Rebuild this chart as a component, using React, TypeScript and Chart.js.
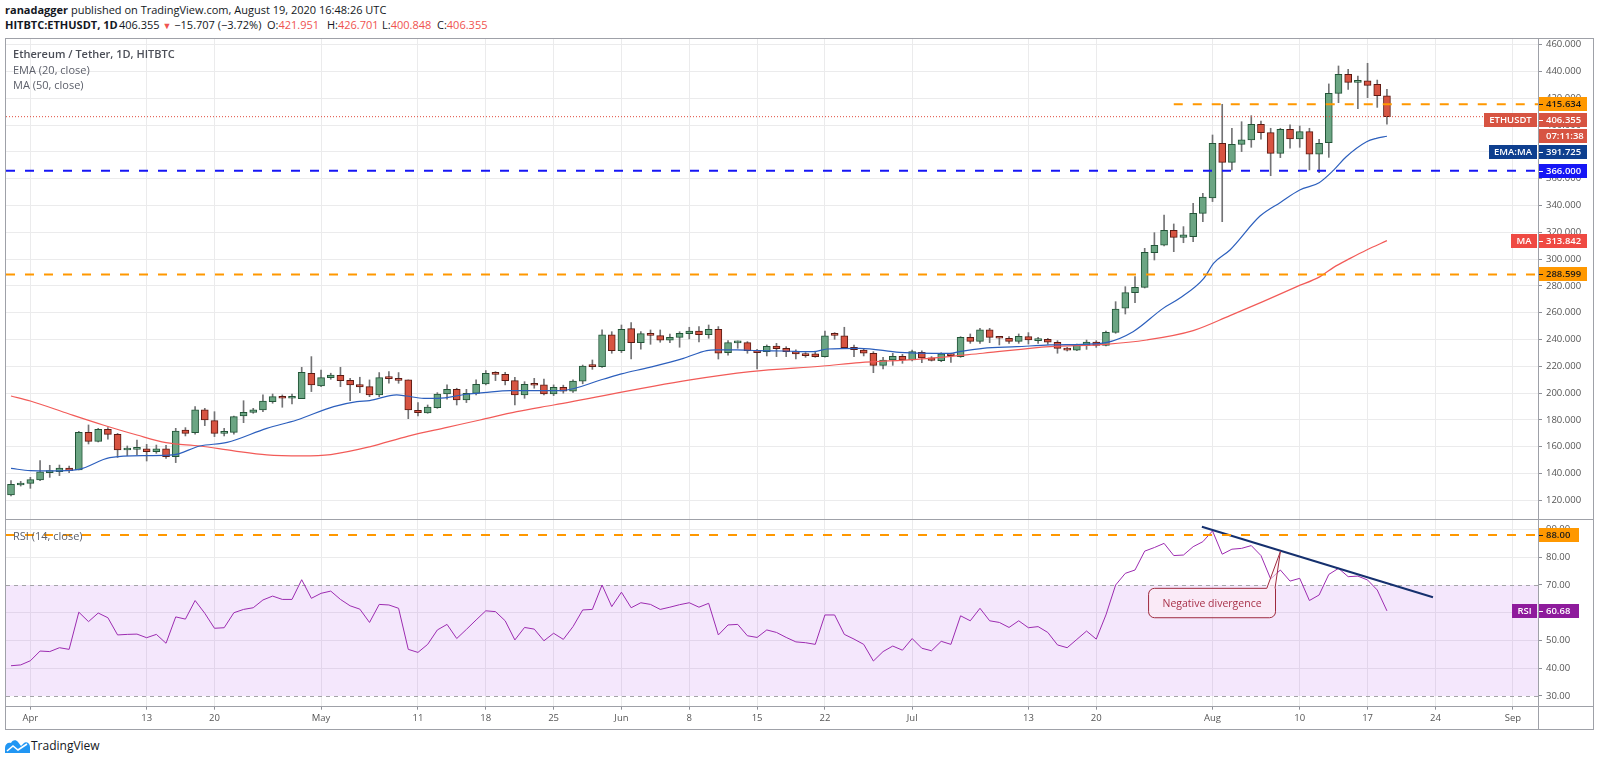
import React, { useEffect, useRef } from 'react';
import { Chart, registerables } from 'chart.js';

Chart.register(...registerables);

// ---------- DATA (day index 0 = 2020-03-30, daily candles) ----------
const START_DATE = '2020-03-30';

const OPEN = [
  124.0, 131.5, 132.7, 135.2, 140.7, 141.4, 144.2, 142.7, 170.8, 164.1,
  173.0, 169.3, 157.6, 158.1, 158.4, 156.4, 158.4, 152.6, 172.5, 170.5,
  187.5, 179.5, 170.0, 170.8, 183.0, 185.7, 187.5, 193.7, 197.4, 196.2,
  196.0, 214.9, 205.4, 211.6, 213.4, 209.6, 206.4, 204.9, 198.7, 211.9,
  211.1, 209.9, 187.3, 185.3, 189.2, 199.4, 202.9, 195.0, 199.9, 206.9,
  215.1, 214.1, 209.4, 198.7, 206.9, 206.2, 199.4, 204.4, 201.5, 209.0,
  220.5, 219.8, 243.5, 231.8, 248.2, 237.7, 244.5, 243.0, 239.5, 241.7,
  244.5, 246.4, 243.7, 247.7, 230.3, 237.5, 237.7, 232.0, 231.0, 235.2,
  233.5, 231.0, 229.0, 229.3, 227.3, 243.5, 242.9, 234.2, 232.2, 229.8,
  220.8, 224.8, 227.5, 224.8, 230.5, 226.3, 224.3, 229.0, 227.3, 241.7,
  238.7, 247.2, 241.7, 241.0, 238.7, 242.2, 239.2, 240.2, 238.0, 233.5,
  232.2, 235.7, 238.2, 235.7, 245.4, 263.4, 275.0, 279.0, 304.9, 310.4,
  321.5, 316.3, 316.8, 334.2, 345.7, 386.5, 372.3, 385.7, 389.0, 400.7,
  394.4, 379.0, 396.9, 389.7, 395.2, 378.3, 386.9, 423.8, 437.9, 432.0,
  433.2, 430.5, 421.951,
];
const HIGH = [
  134.7, 134.2, 137.2, 149.7, 146.2, 146.4, 145.7, 171.5, 176.3, 173.8,
  174.3, 170.0, 160.6, 165.1, 161.8, 161.3, 161.1, 173.8, 174.3, 190.0,
  188.7, 186.2, 173.8, 183.0, 194.4, 188.7, 198.7, 199.4, 198.7, 199.4,
  219.3, 227.3, 217.3, 214.9, 219.3, 211.1, 211.9, 209.9, 215.4, 216.1,
  215.4, 209.9, 193.0, 191.2, 200.4, 206.2, 203.7, 202.9, 209.9, 216.9,
  216.1, 215.6, 211.9, 208.6, 211.1, 210.6, 206.2, 206.0, 210.0, 221.0,
  224.8, 247.2, 245.9, 250.9, 252.7, 245.9, 247.2, 247.2, 244.2, 245.9,
  249.2, 249.7, 250.9, 249.7, 239.2, 239.0, 238.5, 232.8, 236.0, 237.2,
  234.7, 232.3, 230.3, 231.0, 246.4, 245.2, 249.2, 236.0, 233.5, 231.0,
  226.8, 229.8, 229.0, 232.2, 231.7, 227.3, 230.2, 229.8, 242.2, 244.2,
  248.4, 248.4, 242.2, 242.2, 244.2, 245.2, 241.7, 240.9, 239.2, 234.2,
  236.7, 239.7, 239.2, 246.4, 268.3, 279.5, 287.0, 308.1, 319.8, 333.0,
  326.3, 324.3, 341.7, 349.2, 392.7, 415.6, 397.7, 402.6, 407.1, 403.1,
  397.7, 397.7, 400.2, 399.4, 397.7, 389.5, 430.8, 444.2, 441.7, 436.7,
  446.2, 433.7, 426.701,
];
const LOW = [
  123.3, 130.7, 129.0, 134.7, 137.2, 138.5, 140.7, 142.7, 162.1, 163.6,
  165.6, 152.1, 153.4, 153.9, 149.4, 155.1, 151.4, 148.2, 168.1, 169.5,
  175.8, 167.6, 168.1, 169.5, 178.0, 185.0, 186.2, 192.5, 189.5, 192.0,
  196.0, 201.2, 204.9, 210.4, 204.9, 194.5, 200.4, 197.4, 197.4, 207.4,
  207.4, 181.0, 183.0, 185.0, 188.7, 195.5, 191.2, 193.0, 198.7, 206.2,
  209.4, 206.2, 191.2, 196.2, 203.7, 198.7, 198.2, 200.0, 200.5, 207.0,
  217.8, 219.3, 229.8, 230.3, 225.5, 232.8, 236.5, 238.0, 237.7, 234.3,
  240.5, 238.2, 241.0, 225.5, 228.3, 233.5, 229.8, 218.1, 227.8, 227.3,
  227.3, 225.5, 226.8, 226.8, 226.8, 240.2, 233.5, 227.3, 227.8, 215.3,
  218.1, 220.8, 222.3, 224.0, 222.8, 224.0, 223.5, 223.0, 226.8, 237.2,
  237.2, 237.7, 236.0, 237.2, 237.2, 236.7, 237.2, 236.5, 229.8, 231.5,
  231.7, 232.7, 234.2, 235.2, 244.7, 259.1, 267.6, 278.5, 299.4, 309.9,
  305.6, 312.3, 313.1, 328.0, 343.0, 328.0, 366.6, 380.3, 383.5, 389.5,
  362.3, 375.8, 382.8, 383.5, 366.6, 364.6, 376.0, 416.8, 426.7, 412.3,
  420.5, 413.3, 400.848,
];
const CLOSE = [
  132.0, 133.0, 135.5, 141.4, 141.4, 144.2, 142.2, 170.8, 164.1, 173.0,
  169.3, 157.6, 158.4, 158.6, 156.4, 158.4, 152.6, 171.8, 170.0, 187.5,
  180.0, 170.0, 171.0, 182.5, 185.7, 187.5, 194.2, 197.4, 196.2, 196.7,
  215.6, 206.2, 211.6, 213.6, 209.4, 206.2, 204.7, 198.7, 211.6, 210.9,
  209.6, 187.5, 185.5, 189.7, 199.4, 202.9, 195.0, 199.9, 206.7, 214.9,
  214.1, 209.4, 198.7, 206.7, 205.9, 199.4, 204.4, 201.5, 209.0, 220.3,
  219.8, 243.5, 231.8, 247.7, 237.7, 244.5, 243.2, 239.5, 241.7, 244.7,
  246.4, 243.7, 247.7, 229.8, 237.7, 237.9, 231.8, 230.3, 235.0, 233.3,
  231.0, 229.3, 228.0, 227.3, 242.9, 243.2, 234.0, 232.5, 229.8, 220.8,
  224.8, 227.5, 224.8, 231.0, 226.3, 224.5, 229.3, 228.0, 241.7, 238.7,
  247.2, 241.7, 241.0, 238.7, 242.4, 239.7, 240.2, 238.0, 233.5, 232.2,
  235.7, 238.2, 235.7, 245.4, 262.8, 275.0, 279.0, 305.1, 310.4, 321.5,
  316.3, 318.1, 334.2, 346.4, 386.5, 372.3, 385.7, 389.0, 400.7, 394.4,
  379.0, 396.9, 389.7, 395.2, 378.3, 386.5, 423.8, 437.9, 432.0, 433.2,
  429.7, 422.0, 406.355,
];

// EMA(20) and MA(50) at these day positions
const EMA_DAYS = [
  0, 2, 4, 7, 10.2, 14, 16.7, 19.5, 22.3, 26.4, 29.5, 33.3, 35.7, 37, 39.8,
  40.8, 42.6, 44, 47, 48.8, 51.5, 53.9, 56.7, 61.1, 63, 65.9, 69.4, 71.8, 72.8, 74.9,
  77, 79.7, 82.8, 84.2, 87.6, 91.7, 95.2, 96.9, 97.9, 100.3, 103.8, 107.2, 110.6, 113, 115.8,
  118.9, 120.6, 123.1, 124.1, 125.8, 128.9, 131, 133, 135, 136.5, 137.8, 139.9, 140.9, 142,
];
const EMA_VALUES = [
  143.9, 142.2, 142.0, 143.2, 151.9, 153.4, 153.9, 160.6, 163.3, 173.8, 180.0, 190.0, 193.7, 194.5, 198.7,
  197.9, 196.2, 196.2, 199.2, 200.4, 201.9, 201.9, 201.9, 210.4, 214.4, 219.3, 226.0, 231.8, 232.3, 232.3,
  231.8, 231.5, 231.0, 233.0, 233.5, 230.5, 229.7, 229.7, 231.0, 233.5, 234.7, 236.0, 236.5, 237.7, 245.9,
  263.3, 270.8, 285.7, 296.9, 306.9, 332.2, 342.4, 351.6, 357.1, 366.5, 376.5, 387.7, 390.2, 391.725,
];
const MA_DAYS = [
  0, 2, 6, 9.5, 13, 16, 19.5, 23, 26.4, 30, 33, 37, 41, 45, 48.4, 52.2, 56, 70.1,
  76.3, 83.8, 87.6, 93.5, 100.3, 107.2, 113, 117.2, 122, 125.8, 129.2, 132.7, 135.1, 136.5, 138.2, 139.9, 142,
];
const MA_VALUES = [
  197.9, 194.2, 184.5, 176.3, 168.8, 163.1, 160.6, 156.9, 153.9, 153.2, 154.2, 160.0, 168.0, 174.5, 180.0, 186.3, 191.2, 209.9,
  216.1, 220.3, 222.8, 225.3, 229.8, 234.7, 236.5, 239.7, 246.7, 257.9, 268.3, 279.5, 287.0, 293.9, 300.6, 306.9, 313.842,
];

// RSI(14) one value per candle
const RSI_VALUES = [
  40.9, 41.2, 42.7, 46.2, 46.0, 47.4, 46.8, 60.2, 56.8, 59.9,
  58.2, 52.0, 52.2, 52.3, 51.0, 52.2, 49.0, 58.5, 57.7, 64.4,
  59.8, 54.4, 54.6, 60.0, 61.2, 61.8, 64.6, 66.0, 64.8, 64.8,
  71.9, 65.2, 67.0, 67.8, 64.8, 62.5, 61.3, 56.5, 63.0, 62.8,
  61.6, 46.8, 45.7, 48.6, 53.8, 55.8, 50.7, 54.0, 57.4, 60.7,
  60.4, 57.1, 50.2, 54.7, 54.1, 49.9, 52.6, 50.4, 55.0, 61.0,
  61.2, 70.0, 62.2, 67.4, 61.8, 63.6, 63.0, 61.2, 62.0, 62.9,
  63.6, 62.0, 63.4, 52.0, 55.6, 55.8, 51.7, 51.1, 53.8, 52.9,
  51.1, 49.5, 49.2, 48.6, 59.2, 59.2, 52.2, 50.5, 48.6, 42.6,
  46.0, 48.0, 46.5, 50.7, 47.2, 46.3, 49.7, 48.6, 58.9, 57.1,
  61.6, 57.1, 56.5, 54.7, 57.1, 54.6, 55.0, 52.9, 48.4, 47.4,
  50.4, 53.4, 50.5, 59.2, 70.0, 74.2, 75.4, 82.2, 83.5, 85.0,
  80.6, 80.8, 83.8, 85.6, 89.5, 81.1, 82.9, 83.2, 84.2, 80.6,
  72.2, 75.4, 71.4, 72.4, 64.4, 66.4, 73.8, 76.0, 73.0, 73.2,
  71.8, 68.2, 60.68,
];

const X_TICK_DAYS = [2, 14, 21, 32, 42, 49, 56, 63, 70, 77, 84, 93, 105, 112, 124, 133, 140, 147, 155];
const X_TICK_LABELS = ['Apr', '13', '20', 'May', '11', '18', '25', 'Jun', '8', '15', '22', 'Jul', '13', '20', 'Aug', '10', '17', '24', 'Sep'];
const PRICE_TICKS = [120, 140, 160, 180, 200, 220, 240, 260, 280, 300, 320, 340, 360, 380, 400, 420, 440, 460];
const RSI_TICKS = [30, 40, 50, 60, 70, 80, 90];

const LEVEL_LOW = 288.599;
const LEVEL_SUPPORT = 366.0;
const LEVEL_RESIST = 415.634;
const RESIST_FROM_DAY = 120;
const RSI_LEVEL = 88;
const RSI_BAND = [30, 70];
const TREND_DAYS = [122.9, 146.75];
const TREND_VALUES = [91.0, 65.6];
const CALLOUT_TEXT = 'Negative divergence';
const CALLOUT_BOX = { fromDay: 117.4, toDay: 130.5, top: 68.8, bottom: 58.2 };
const CALLOUT_TAIL = { fromDay: 129.6, toDay: 130.45, tipDay: 131.0, tipValue: 82.0 };
const SYMBOL = 'ETHUSDT';
const COUNTDOWN = '07:11:38';

// header quote values
const QUOTE_LAST = '406.355';
const QUOTE_CHANGE = '−15.707 (−3.72%)';
const QUOTE_OHLC = [
  ['O:', '421.951'],
  ['H:', '426.701'],
  ['L:', '400.848'],
  ['C:', '406.355'],
];

// axis ranges
const X_MIN = -0.516;
const X_MAX = 157.59;
const PRICE_MIN = 105.37;
const PRICE_MAX = 465.07;
const RSI_MIN = 26.14;
const RSI_MAX = 93.42;

// ---------- STYLE ----------
const FONT = "'Open Sans', 'Noto Sans', sans-serif";
const UP = '#6ba583';
const UP_BORDER = '#225437';
const DOWN = '#d75442';
const DOWN_BORDER = '#5b1a13';
const WICK = '#737375';
const GRID = '#ebebec';
const AXIS_TEXT = '#555555';
const AXIS_LINE = '#8e9098';
const ORANGE = '#ff9800';
const EMA_COLOR = '#2c5fbd';
const MA_COLOR = '#f25b58';
const RSI_COLOR = '#9c2bb0';

type LabelItem = { value: number; bg: string; fg: string; text: string; left?: string; sub?: string };

function drawBox(ctx: CanvasRenderingContext2D, x: number, yc: number, w: number, it: { bg: string; fg: string; text: string; left?: string }, dash: boolean) {
  const h = 14;
  const top = Math.round(yc - h / 2);
  ctx.fillStyle = it.bg;
  ctx.fillRect(x + 1, top, w, h);
  ctx.fillStyle = it.fg;
  if (dash) ctx.fillRect(x + 1, Math.round(yc), 4, 1);
  ctx.textAlign = 'left';
  ctx.fillText(it.text, x + 8, top + h / 2 + 0.5);
  if (it.left) {
    const lw = Math.ceil(ctx.measureText(it.left).width) + 10;
    ctx.fillStyle = it.bg;
    ctx.fillRect(x - 1 - lw, top, lw, h);
    ctx.fillStyle = it.fg;
    ctx.textAlign = 'center';
    ctx.fillText(it.left, x - 1 - lw / 2, top + h / 2 + 0.5);
  }
}

function drawLabels(chart: any, items: LabelItem[], boxW: number) {
  const { ctx, chartArea, scales } = chart;
  ctx.save();
  ctx.font = `600 9.5px ${FONT}`;
  ctx.textBaseline = 'middle';
  const list = items
    .map((it) => ({ ...it, py: scales.y.getPixelForValue(it.value) }))
    .sort((a, b) => a.py - b.py);
  let next = -1e9;
  for (const it of list) {
    const yc = Math.max(it.py, next);
    drawBox(ctx, chartArea.right, yc, boxW, it, true);
    next = yc + 16;
    if (it.sub) {
      drawBox(ctx, chartArea.right, next, boxW, { bg: it.bg, fg: it.fg, text: it.sub }, false);
      next += 16;
    }
  }
  ctx.restore();
}

const xScale = (showLabels: boolean) => ({
  type: 'linear',
  min: X_MIN,
  max: X_MAX,
  offset: false,
  grid: { color: GRID, offset: false, drawTicks: showLabels, tickLength: 3, tickColor: AXIS_LINE },
  border: { display: false },
  ticks: {
    display: showLabels,
    autoSkip: false,
    maxRotation: 0,
    padding: 3,
    color: AXIS_TEXT,
    font: { family: FONT, size: 9.5 },
    callback: (_v: any, i: number) => X_TICK_LABELS[i],
  },
  afterBuildTicks: (s: any) => {
    s.ticks = X_TICK_DAYS.map((v) => ({ value: v }));
  },
  afterFit: (s: any) => {
    s.height = showLabels ? 23.3 : 0;
    s.paddingLeft = 0;
    s.paddingRight = 0;
  },
});

export default function App() {
  const priceRef = useRef<HTMLCanvasElement>(null);
  const rsiRef = useRef<HTMLCanvasElement>(null);

  useEffect(() => {
    document.body.style.margin = '0';
    Chart.defaults.font.family = FONT;
    const days = CLOSE.map((_, i) => i);
    const last = CLOSE.length - 1;
    const isUp = days.map((i) => CLOSE[i] >= OPEN[i]);

    const hLine = (value: number, color: string, from = X_MIN, dash: number[] = [9, 10], width = 2) => ({
      type: 'line',
      data: [{ x: from, y: value }, { x: X_MAX, y: value }],
      borderColor: color,
      borderWidth: width,
      borderDash: dash,
      pointRadius: 0,
      order: 0,
    });

    const priceChart = new Chart(priceRef.current as HTMLCanvasElement, {
      type: 'bar',
      data: {
        datasets: [
          {
            type: 'bar',
            data: days.map((i) => ({ x: i, y: [LOW[i], HIGH[i]] })),
            backgroundColor: WICK,
            borderWidth: 0,
            barThickness: 1,
            grouped: false,
            order: 4,
          },
          {
            type: 'bar',
            data: days.map((i) => ({ x: i, y: [OPEN[i], CLOSE[i]] })),
            backgroundColor: isUp.map((u) => (u ? UP : DOWN)),
            borderColor: isUp.map((u) => (u ? UP_BORDER : DOWN_BORDER)),
            borderWidth: 1,
            borderSkipped: false,
            barThickness: 7,
            minBarLength: 2,
            grouped: false,
            order: 3,
          },
          {
            type: 'line',
            data: EMA_DAYS.map((d, i) => ({ x: d, y: EMA_VALUES[i] })),
            borderColor: EMA_COLOR,
            borderWidth: 1.2,
            pointRadius: 0,
            cubicInterpolationMode: 'monotone',
            order: 2,
          },
          {
            type: 'line',
            data: MA_DAYS.map((d, i) => ({ x: d, y: MA_VALUES[i] })),
            borderColor: MA_COLOR,
            borderWidth: 1.2,
            pointRadius: 0,
            cubicInterpolationMode: 'monotone',
            order: 2,
          },
          hLine(LEVEL_LOW, ORANGE),
          hLine(LEVEL_SUPPORT, '#1616f5'),
          hLine(LEVEL_RESIST, ORANGE, RESIST_FROM_DAY),
          hLine(CLOSE[last], '#e04a3c', X_MIN, [1, 2], 1),
        ],
      } as any,
      options: {
        animation: false,
        responsive: false,
        maintainAspectRatio: false,
        events: [],
        layout: { padding: { left: 6, right: 6, top: 0, bottom: 0 } },
        plugins: { legend: { display: false }, tooltip: { enabled: false } },
        scales: {
          x: xScale(false),
          y: {
            type: 'linear',
            position: 'right',
            min: PRICE_MIN,
            max: PRICE_MAX,
            grid: { color: GRID, tickLength: 4, tickColor: AXIS_LINE },
            border: { display: false },
            ticks: {
              autoSkip: false,
              padding: 4,
              color: AXIS_TEXT,
              font: { family: FONT, size: 9.5 },
              callback: (v: any) => Number(v).toFixed(3),
            },
            afterBuildTicks: (s: any) => {
              s.ticks = PRICE_TICKS.map((v) => ({ value: v }));
            },
            afterFit: (s: any) => {
              s.width = 56;
              s.paddingTop = 0;
              s.paddingBottom = 0;
            },
          },
        } as any,
      },
      plugins: [
        {
          id: 'priceLabels',
          afterDraw(chart: any) {
            drawLabels(
              chart,
              [
                { value: LEVEL_RESIST, bg: ORANGE, fg: '#1a1a1a', text: LEVEL_RESIST.toFixed(3) },
                { value: CLOSE[last], bg: DOWN, fg: '#ffffff', text: CLOSE[last].toFixed(3), left: SYMBOL, sub: COUNTDOWN },
                { value: EMA_VALUES[EMA_VALUES.length - 1], bg: '#0e3f8f', fg: '#ffffff', text: EMA_VALUES[EMA_VALUES.length - 1].toFixed(3), left: 'EMA:MA' },
                { value: LEVEL_SUPPORT, bg: '#1616f5', fg: '#ffffff', text: LEVEL_SUPPORT.toFixed(3) },
                { value: MA_VALUES[MA_VALUES.length - 1], bg: '#ef4a43', fg: '#ffffff', text: MA_VALUES[MA_VALUES.length - 1].toFixed(3), left: 'MA' },
                { value: LEVEL_LOW, bg: ORANGE, fg: '#1a1a1a', text: LEVEL_LOW.toFixed(3) },
              ],
              48
            );
          },
        },
      ],
    });

    const rsiChart = new Chart(rsiRef.current as HTMLCanvasElement, {
      type: 'line',
      data: {
        datasets: [
          {
            data: RSI_VALUES.map((v, i) => ({ x: i, y: v })),
            borderColor: RSI_COLOR,
            borderWidth: 1,
            pointRadius: 0,
            order: 2,
          },
          hLine(RSI_LEVEL, ORANGE),
          {
            data: TREND_DAYS.map((d, i) => ({ x: d, y: TREND_VALUES[i] })),
            borderColor: '#15306e',
            borderWidth: 2,
            pointRadius: 0,
            order: 0,
          },
        ],
      } as any,
      options: {
        animation: false,
        responsive: false,
        maintainAspectRatio: false,
        events: [],
        layout: { padding: { left: 6, right: 6, top: 0, bottom: 0 } },
        plugins: { legend: { display: false }, tooltip: { enabled: false } },
        scales: {
          x: xScale(true),
          y: {
            type: 'linear',
            position: 'right',
            min: RSI_MIN,
            max: RSI_MAX,
            grid: {
              color: (c: any) => (c.tick && RSI_BAND.includes(c.tick.value) ? 'rgba(0,0,0,0)' : GRID),
              tickLength: 4,
              tickColor: AXIS_LINE,
            },
            border: { display: false },
            ticks: {
              autoSkip: false,
              padding: 4,
              color: AXIS_TEXT,
              font: { family: FONT, size: 9.5 },
              callback: (v: any) => Number(v).toFixed(2),
            },
            afterBuildTicks: (s: any) => {
              s.ticks = RSI_TICKS.map((v) => ({ value: v }));
            },
            afterFit: (s: any) => {
              s.width = 56;
              s.paddingTop = 0;
              s.paddingBottom = 0;
            },
          },
        } as any,
      },
      plugins: [
        {
          id: 'rsiBand',
          beforeDatasetsDraw(chart: any) {
            const { ctx, chartArea: a, scales } = chart;
            const yTop = scales.y.getPixelForValue(RSI_BAND[1]);
            const yBot = scales.y.getPixelForValue(RSI_BAND[0]);
            ctx.save();
            ctx.fillStyle = 'rgba(155, 40, 230, 0.11)';
            ctx.fillRect(a.left, yTop, a.right - a.left, yBot - yTop);
            ctx.strokeStyle = '#a4a4a8';
            ctx.lineWidth = 1;
            ctx.setLineDash([4, 4]);
            for (const yy of [yTop, yBot]) {
              ctx.beginPath();
              ctx.moveTo(a.left, Math.round(yy) + 0.5);
              ctx.lineTo(a.right, Math.round(yy) + 0.5);
              ctx.stroke();
            }
            ctx.restore();
          },
        },
        {
          id: 'rsiAnnotations',
          afterDatasetsDraw(chart: any) {
            const { ctx, scales } = chart;
            const xs = scales.x;
            const ys = scales.y;
            const x0 = xs.getPixelForValue(CALLOUT_BOX.fromDay);
            const x1 = xs.getPixelForValue(CALLOUT_BOX.toDay);
            const y0 = ys.getPixelForValue(CALLOUT_BOX.top);
            const y1 = ys.getPixelForValue(CALLOUT_BOX.bottom);
            const tx0 = xs.getPixelForValue(CALLOUT_TAIL.fromDay);
            const tx1 = xs.getPixelForValue(CALLOUT_TAIL.toDay);
            const tipX = xs.getPixelForValue(CALLOUT_TAIL.tipDay);
            const tipY = ys.getPixelForValue(CALLOUT_TAIL.tipValue);
            const r = 6;
            ctx.save();
            ctx.beginPath();
            ctx.moveTo(x0 + r, y0);
            ctx.lineTo(tx0, y0);
            ctx.lineTo(tipX, tipY);
            ctx.lineTo(tx1, y0);
            ctx.arcTo(x1, y0, x1, y0 + r, Math.min(r, x1 - tx1 + 0.01));
            ctx.lineTo(x1, y1 - r);
            ctx.arcTo(x1, y1, x1 - r, y1, r);
            ctx.lineTo(x0 + r, y1);
            ctx.arcTo(x0, y1, x0, y1 - r, r);
            ctx.lineTo(x0, y0 + r);
            ctx.arcTo(x0, y0, x0 + r, y0, r);
            ctx.closePath();
            ctx.fillStyle = 'rgba(255, 236, 243, 0.55)';
            ctx.fill();
            ctx.strokeStyle = '#9e2a3e';
            ctx.lineWidth = 1;
            ctx.stroke();
            ctx.fillStyle = '#a8324a';
            ctx.font = `10.5px ${FONT}`;
            ctx.textAlign = 'center';
            ctx.textBaseline = 'middle';
            ctx.fillText(CALLOUT_TEXT, (x0 + x1) / 2, (y0 + y1) / 2 + 0.5);
            ctx.restore();
          },
          afterDraw(chart: any) {
            drawLabels(
              chart,
              [
                { value: RSI_LEVEL, bg: ORANGE, fg: '#1a1a1a', text: RSI_LEVEL.toFixed(2) },
                { value: RSI_VALUES[RSI_VALUES.length - 1], bg: '#8e1b9c', fg: '#ffffff', text: RSI_VALUES[RSI_VALUES.length - 1].toFixed(2), left: 'RSI' },
              ],
              40
            );
          },
        },
      ],
    });

    return () => {
      priceChart.destroy();
      rsiChart.destroy();
    };
  }, []);

  const red = '#ef5350';
  const abs = (s: React.CSSProperties): React.CSSProperties => ({ position: 'absolute', whiteSpace: 'nowrap', ...s });
  const line = '#9fa1a8';
  const hdr: React.CSSProperties = { fontSize: 11, lineHeight: '14px', color: '#131722' };
  const ohlcLeft = [267, 327, 382, 437];

  return (
    <div
      data-start={START_DATE}
      style={{ position: 'absolute', left: 0, top: 0, width: 1600, height: 763, background: '#ffffff', fontFamily: FONT, overflow: 'hidden' }}
    >
      <div style={abs({ left: 5, top: 3, ...hdr })}>
        <b>ranadagger</b> published on TradingView.com, August 19, 2020 16:48:26 UTC
      </div>
      <div style={abs({ left: 5, top: 18, ...hdr, fontWeight: 700 })}>HITBTC:ETHUSDT, 1D</div>
      <div style={abs({ left: 119, top: 18, ...hdr })}>
        {QUOTE_LAST} <span style={{ color: red, fontSize: 9 }}>▼</span> {QUOTE_CHANGE}
      </div>
      {QUOTE_OHLC.map(([k, v], i) => (
        <div key={k} style={abs({ left: ohlcLeft[i], top: 18, ...hdr })}>
          {k}
          <span style={{ color: red }}>{v}</span>
        </div>
      ))}

      <canvas ref={priceRef} width={1600} height={482} style={abs({ left: 0, top: 38, width: 1600, height: 482 })} />
      <canvas ref={rsiRef} width={1600} height={210} style={abs({ left: 0, top: 520, width: 1600, height: 210 })} />

      <div style={abs({ left: 5, top: 38, width: 1589, height: 692, border: `1px solid ${line}`, boxSizing: 'border-box', pointerEvents: 'none' })} />
      <div style={abs({ left: 5, top: 519, width: 1589, height: 1, background: line })} />
      <div style={abs({ left: 5, top: 706, width: 1589, height: 1, background: line })} />
      <div style={abs({ left: 1538, top: 38, width: 1, height: 692, background: line })} />

      <div style={abs({ left: 13, top: 46, fontSize: 11, lineHeight: '15px', color: '#4b4e57', fontWeight: 600 })}>Ethereum / Tether, 1D, HITBTC</div>
      <div style={abs({ left: 13, top: 62, fontSize: 11, lineHeight: '15px', color: '#5d606b' })}>EMA (20, close)</div>
      <div style={abs({ left: 13, top: 77, fontSize: 11, lineHeight: '15px', color: '#5d606b' })}>MA (50, close)</div>
      <div style={abs({ left: 13, top: 528, fontSize: 11, lineHeight: '15px', color: '#5d606b' })}>RSI (14, close)</div>

      <svg width={25} height={14} viewBox="0 0 25 14" style={abs({ left: 5, top: 739 })}>
        <path d="M0 14 V9 C0 5 3 3 6 4 C7 1 11 0 13 3 L16 7 L19 4 C21 2 25 4 25 8 V14 Z" fill="#2196f3" />
        <path d="M2 12 L8 7 L13 11 L22 5" stroke="#ffffff" strokeWidth={1.6} fill="none" />
      </svg>
      <div style={abs({ left: 31, top: 738, fontSize: 12, lineHeight: '16px', color: '#131722' })}>TradingView</div>
    </div>
  );
}
